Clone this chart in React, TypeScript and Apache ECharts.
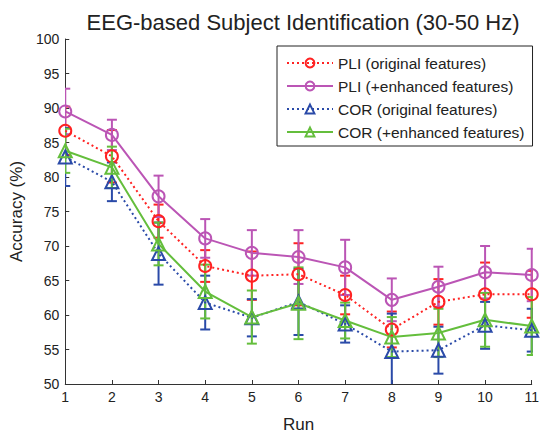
import React, { useEffect, useRef } from "react";
import * as echarts from "echarts";

const runs = [1, 2, 3, 4, 5, 6, 7, 8, 9, 10, 11];
const yTicks = [50, 55, 60, 65, 70, 75, 80, 85, 90, 95, 100];

const pliOrig = [86.7, 83.0, 73.6, 67.1, 65.7, 65.9, 62.9, 57.9, 61.9, 63.0, 63.0];
const pliOrigErr = [3.5, 3.8, 2.4, 2.3, 3.5, 4.5, 2.8, 2.6, 3.3, 4.6, 3.4];
const pliEnh = [89.5, 86.1, 77.2, 71.1, 69.0, 68.4, 66.9, 62.2, 64.1, 66.2, 65.8];
const pliEnhErr = [3.3, 2.2, 3.0, 2.8, 3.3, 3.9, 4.0, 3.1, 2.9, 3.8, 3.8];
const corOrig = [82.9, 79.3, 68.9, 61.8, 59.6, 61.9, 58.7, 54.7, 54.9, 58.5, 57.8];
const corOrigErr = [4.2, 2.8, 4.5, 3.9, 2.7, 4.8, 2.7, 5.5, 3.4, 3.4, 3.1];
const corEnh = [83.8, 81.4, 70.3, 63.4, 59.7, 61.7, 59.2, 56.8, 57.4, 59.3, 58.4];
const corEnhErr = [3.2, 3.0, 3.1, 3.9, 3.85, 5.2, 2.6, 2.9, 3.5, 3.9, 4.2];

const names = [
  "PLI (original features)",
  "PLI (+enhanced features)",
  "COR (original features)",
  "COR (+enhanced features)",
];

const FONT = "'Liberation Sans', Arial, sans-serif";

export default function App() {
  const ref = useRef<HTMLDivElement>(null);
  useEffect(() => {
    if (!ref.current) return;
    const chart = echarts.init(ref.current, undefined, { renderer: "svg" });

    const defs = [
      { name: names[0], vals: pliOrig, err: pliOrigErr, color: "#ff2222", symbol: "circle", dotted: true },
      { name: names[1], vals: pliEnh, err: pliEnhErr, color: "#bb55b5", symbol: "circle", dotted: false },
      { name: names[2], vals: corOrig, err: corOrigErr, color: "#2a4aa8", symbol: "triangle", dotted: true },
      { name: names[3], vals: corEnh, err: corEnhErr, color: "#64be3c", symbol: "triangle", dotted: false },
    ];

    const series: any[] = [];
    defs.forEach((d) => {
      const errData = runs.map((r, i) => [r, d.vals[i] - d.err[i], d.vals[i] + d.err[i]]);
      series.push({
        type: "custom",
        name: d.name + " err",
        clip: true,
        data: errData,
        encode: { x: 0, y: [1, 2] },
        renderItem: (params: any, api: any) => {
          const x = api.value(0);
          const lo = Math.max(api.value(1), yTicks[0]);
          const hi = api.value(2);
          const pHi = api.coord([x, hi]);
          const pLo = api.coord([x, lo]);
          const w = 5;
          const st = { stroke: d.color, lineWidth: 2 };
          const children: any[] = [
            { type: "line", shape: { x1: pHi[0], y1: pHi[1], x2: pLo[0], y2: pLo[1] }, style: st },
            { type: "line", shape: { x1: pHi[0] - w, y1: pHi[1], x2: pHi[0] + w, y2: pHi[1] }, style: st },
          ];
          if (api.value(1) >= yTicks[0]) {
            children.push({ type: "line", shape: { x1: pLo[0] - w, y1: pLo[1], x2: pLo[0] + w, y2: pLo[1] }, style: st });
          }
          return { type: "group", children };
        },
        silent: true,
      });
      series.push({
        type: "line",
        name: d.name,
        data: runs.map((r, i) => [r, d.vals[i]]),
        symbol: d.symbol,
        symbolSize: d.symbol === "circle" ? 12 : 13,
        showAllSymbol: true,
        lineStyle: { color: d.color, width: 2, type: d.dotted ? [2, 3] : "solid" },
        itemStyle: { color: "rgba(255,255,255,0)", borderColor: d.color, borderWidth: 2 },
        clip: false,
      });
    });

    chart.setOption({
      animation: false,
      backgroundColor: "#fff",
      textStyle: { fontFamily: FONT },
      title: {
        text: "EEG-based Subject Identification (30-50 Hz)",
        left: 298,
        textAlign: "center",
        top: 6,
        textStyle: { fontSize: 22, fontWeight: "normal", color: "#222", fontFamily: FONT },
      },
      legend: {
        data: names,
        orient: "vertical",
        left: 277,
        top: 46,
        padding: [9, 8, 6, 9],
        itemWidth: 46,
        itemHeight: 11,
        itemGap: 7,
        borderColor: "#222",
        borderWidth: 1,
        backgroundColor: "#fff",
        textStyle: { fontSize: 15.5, color: "#222", fontFamily: FONT },
      },
      grid: { left: 63, right: 7, top: 39, bottom: 45, containLabel: false },
      xAxis: {
        type: "value",
        min: 1,
        max: 11,
        interval: 1,
        name: "Run",
        nameLocation: "middle",
        nameGap: 32,
        nameTextStyle: { fontSize: 17, color: "#222", fontFamily: FONT },
        axisLine: { lineStyle: { color: "#333", width: 1 } },
        axisTick: { inside: true, length: 4, lineStyle: { color: "#333" } },
        axisLabel: { fontSize: 14, color: "#222", margin: 6, fontFamily: FONT },
        splitLine: { show: false },
      },
      yAxis: {
        type: "value",
        min: yTicks[0],
        max: yTicks[yTicks.length - 1],
        interval: 5,
        name: "Accuracy (%)",
        nameLocation: "middle",
        nameGap: 34,
        nameTextStyle: { fontSize: 17, color: "#222", fontFamily: FONT },
        axisLine: { show: true, lineStyle: { color: "#333", width: 1 } },
        axisTick: { show: true, inside: true, length: 4, lineStyle: { color: "#333" } },
        axisLabel: { fontSize: 14, color: "#222", margin: 6, fontFamily: FONT },
        splitLine: { show: false },
      },
      series,
    });
    return () => chart.dispose();
  }, []);
  return <div ref={ref} style={{ width: 542, height: 438, position: "absolute", left: 0, top: 0 }} />;
}
